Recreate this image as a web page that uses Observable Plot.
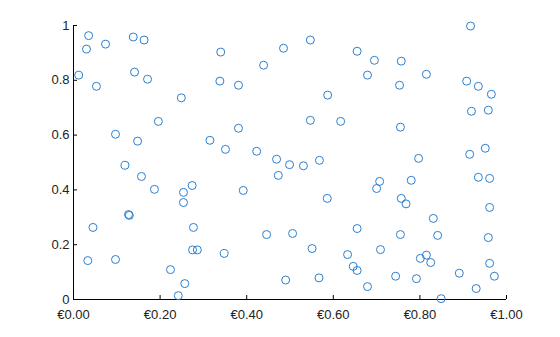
<!DOCTYPE html>
<html>
<head>
<meta charset="utf-8">
<script src="https://cdn.jsdelivr.net/npm/d3@7"></script>
<script src="https://cdn.jsdelivr.net/npm/@observablehq/plot@0.6"></script>
<style>
  html, body { margin: 0; padding: 0; background: #fff; }
  #chart svg { display: block; }
</style>
</head>
<body>
<div id="chart"></div>
<script>
const xs = [0.035,0.030,0.074,0.138,0.163,0.012,0.141,0.171,0.053,0.249,
  0.196,0.097,0.148,0.315,0.119,0.340,0.485,0.547,0.655,0.439,
  0.338,0.381,0.587,0.381,0.547,0.617,0.351,0.423,0.469,0.499,
  0.531,0.568,0.473,0.392,0.586,0.655,0.446,0.506,0.348,0.551,
  0.633,0.646,0.655,0.490,0.567,0.917,0.695,0.757,0.679,0.815,
  0.753,0.908,0.935,0.965,0.919,0.958,0.755,0.951,0.915,0.797,
  0.707,0.700,0.780,0.935,0.961,0.757,0.768,0.961,0.831,0.755,
  0.841,0.958,0.709,0.815,0.801,0.825,0.961,0.891,0.744,0.792,
  0.972,0.679,0.930,0.849,0.157,0.187,0.254,0.274,0.254,0.127,
  0.129,0.045,0.277,0.275,0.286,0.033,0.097,0.224,0.257,0.242];
const ys = [0.963,0.914,0.932,0.958,0.947,0.819,0.830,0.804,0.778,0.736,
  0.650,0.603,0.578,0.581,0.490,0.903,0.917,0.947,0.906,0.855,
  0.797,0.782,0.746,0.625,0.654,0.650,0.548,0.541,0.512,0.492,
  0.488,0.508,0.453,0.398,0.369,0.259,0.237,0.241,0.168,0.186,
  0.164,0.121,0.106,0.071,0.079,0.998,0.873,0.870,0.819,0.822,
  0.782,0.797,0.778,0.749,0.687,0.691,0.629,0.552,0.530,0.515,
  0.431,0.405,0.435,0.446,0.442,0.369,0.349,0.336,0.296,0.237,
  0.234,0.226,0.182,0.162,0.150,0.135,0.132,0.096,0.085,0.076,
  0.085,0.047,0.040,0.003,0.449,0.402,0.391,0.416,0.354,0.310,
  0.307,0.263,0.263,0.181,0.181,0.142,0.146,0.109,0.058,0.014];
const xTicks = [0, 0.2, 0.4, 0.6, 0.8, 1];
const yTicks = [0, 0.2, 0.4, 0.6, 0.8, 1];

const data = xs.map((x, i) => ({x, y: ys[i]}));

const chart = Plot.plot({
  width: 560,
  height: 337,
  marginLeft: 73,
  marginRight: 54,
  marginTop: 25,
  marginBottom: 38,
  style: {fontFamily: "'Liberation Sans', Arial, sans-serif", fontSize: "13px", color: "#222", background: "#fff"},
  x: {domain: [0, 1]},
  y: {domain: [0, 1]},
  marks: [
    Plot.ruleY([0], {stroke: "#000"}),
    Plot.ruleX([0], {stroke: "#000"}),
    Plot.axisX(xTicks, {tickSize: -4, tickPadding: 14, fontSize: 13, tickFormat: d => "€" + d.toFixed(2), label: null, stroke: "#000"}),
    Plot.axisY(yTicks, {tickSize: -4, tickPadding: 8, fontSize: 13, tickFormat: d => String(d), label: null, stroke: "#000"}),
    Plot.dot(data, {x: "x", y: "y", r: 4, stroke: "#2b7fd0", strokeWidth: 1, fill: "none"})
  ]
});
document.getElementById("chart").appendChild(chart);
</script>
</body>
</html>
